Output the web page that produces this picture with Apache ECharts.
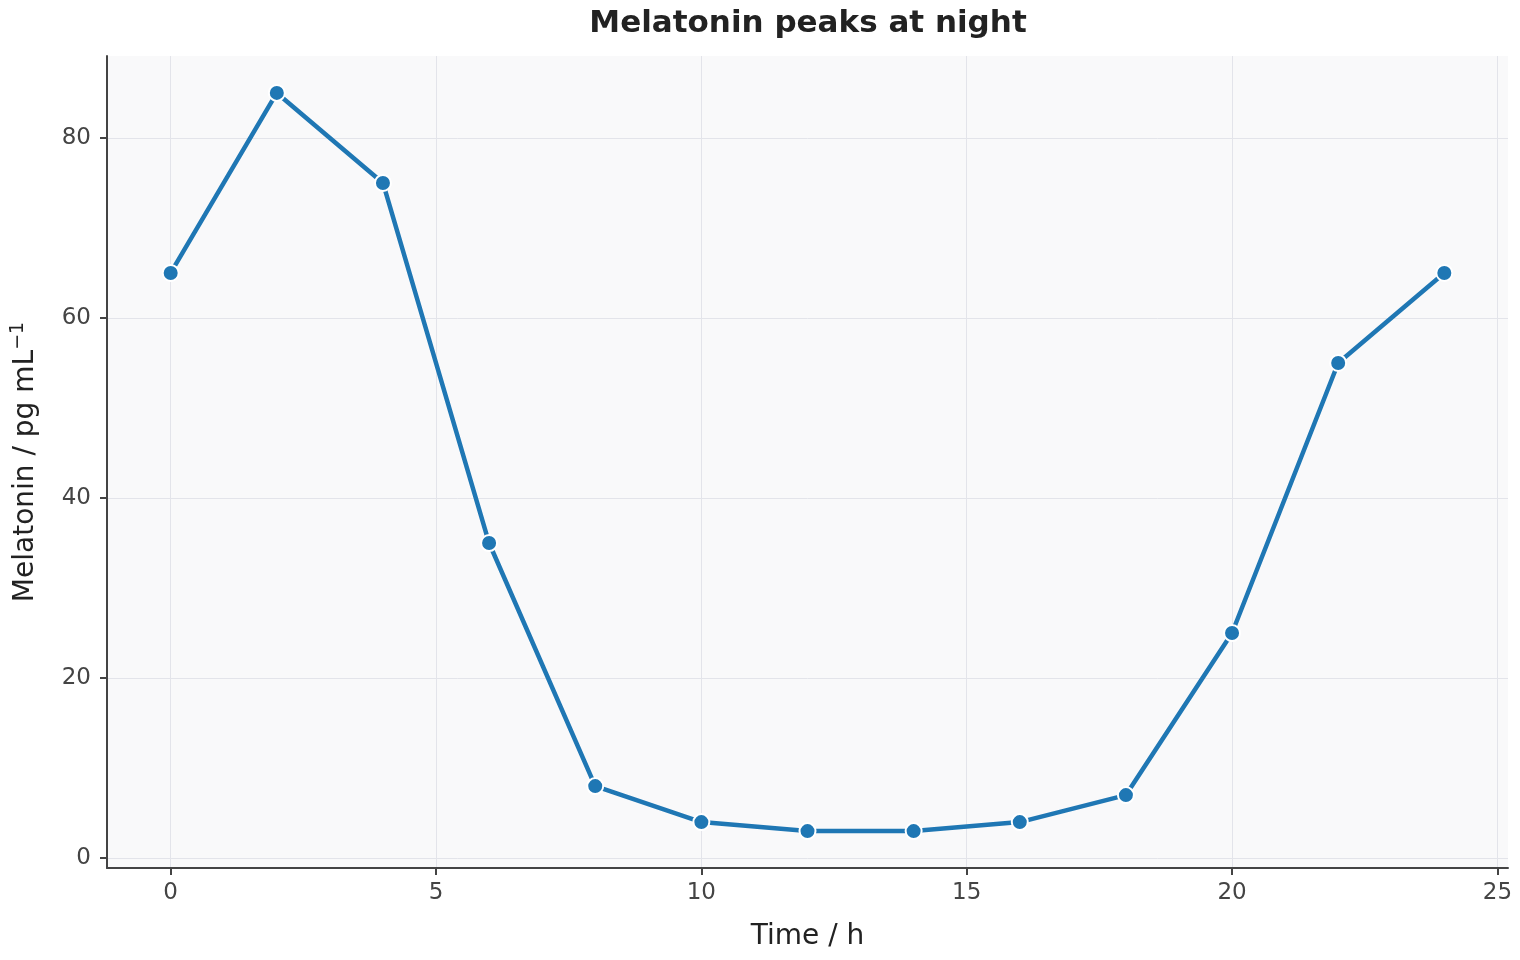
<!DOCTYPE html>
<html><head><meta charset="utf-8">
<script src="https://cdn.jsdelivr.net/npm/echarts@6/dist/echarts.min.js"></script>
<style>html,body{margin:0;padding:0;background:#fff}#c{width:1520px;height:960px}</style>
</head><body><div id="c"></div>
<script>
const hours = [0, 2, 4, 6, 8, 10, 12, 14, 16, 18, 20, 22, 24];
const melatonin = [65, 85, 75, 35, 8, 4, 3, 3, 4, 7, 25, 55, 65];
const xTicks = [0, 5, 10, 15, 20, 25];
const yTicks = [0, 20, 40, 60, 80];

const chart = echarts.init(document.getElementById('c'));
const font = 'DejaVu Sans';
chart.setOption({
  animation: false,
  title: {text: 'Melatonin peaks at night', left: 803, top: 3, textAlign: 'center',
    textStyle: {fontFamily: font, fontSize: 31, fontWeight: 'bold', color: '#222'}},
  grid: {left: 107, right: 12, top: 56, bottom: 92, outerBoundsMode: 'none', containLabel: false,
    show: true, backgroundColor: '#f9f9fa', borderWidth: 0},
  xAxis: {
    type: 'value', min: -1.2, max: 25.2,
    name: 'Time / h', nameLocation: 'middle', nameGap: 55,
    nameTextStyle: {fontFamily: font, fontSize: 28, color: '#222'},
    axisLine: {show: true, onZero: false, lineStyle: {color: '#444', width: 2}},
    axisTick: {show: true, length: 7, lineStyle: {color: '#444', width: 2}, customValues: xTicks},
    axisLabel: {fontFamily: font, fontSize: 23, color: '#444', margin: 14, customValues: xTicks},
    splitLine: {show: true, lineStyle: {color: '#e3e4ea', width: 1}}
  },
  yAxis: {
    type: 'value', min: -1.1, max: 89.1,
    name: 'Melatonin / pg mL{sup|−1}', nameLocation: 'middle', nameGap: 64,
    nameTextStyle: {fontFamily: font, fontSize: 28, color: '#222',
      rich: {sup: {fontFamily: font, fontSize: 19, color: '#222', verticalAlign: 'bottom', padding: [0, 0, 15, 0]}}},
    axisLine: {show: true, onZero: false, lineStyle: {color: '#444', width: 2}},
    axisTick: {show: true, length: 7, lineStyle: {color: '#444', width: 2}, customValues: yTicks},
    axisLabel: {fontFamily: font, fontSize: 23, color: '#444', margin: 16, customValues: yTicks},
    splitLine: {show: true, lineStyle: {color: '#e3e4ea', width: 1}}
  },
  series: [{
    type: 'line', data: hours.map((h, i) => [h, melatonin[i]]),
    symbol: 'circle', symbolSize: 16,
    lineStyle: {color: '#1f77b4', width: 4.5},
    itemStyle: {color: '#1f77b4', borderColor: '#fff', borderWidth: 2}
  }]
});
</script></body></html>
